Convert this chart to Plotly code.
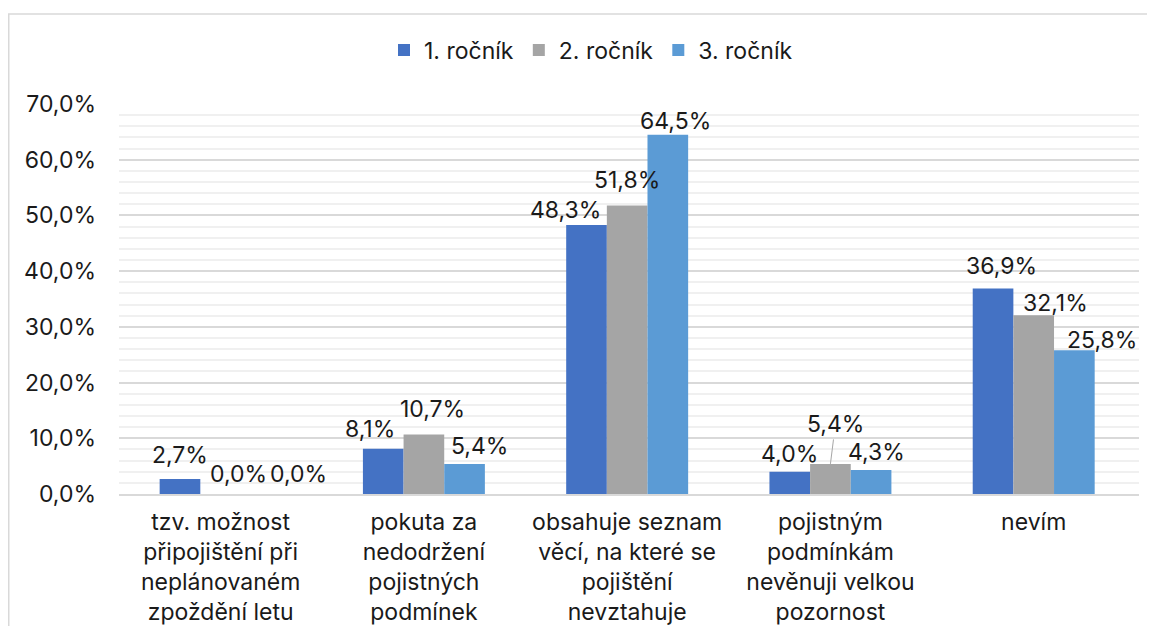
import plotly.graph_objects as go

categories = [
    "tzv. možnost<br>připojištění při<br>neplánovaném<br>zpoždění letu",
    "pokuta za<br>nedodržení<br>pojistných<br>podmínek",
    "obsahuje seznam<br>věcí, na které se<br>pojištění<br>nevztahuje",
    "pojistným<br>podmínkám<br>nevěnuji velkou<br>pozornost",
    "nevím",
]
series_names = ["1. ročník", "2. ročník", "3. ročník"]
rocnik1 = [2.7, 8.1, 48.3, 4.0, 36.9]
rocnik2 = [0.0, 10.7, 51.8, 5.4, 32.1]
rocnik3 = [0.0, 5.4, 64.5, 4.3, 25.8]
y_ticks = [0, 10, 20, 30, 40, 50, 60, 70]
y_tick_labels = ["0,0%", "10,0%", "20,0%", "30,0%", "40,0%", "50,0%", "60,0%", "70,0%"]

colors = ["#4472C4", "#A5A5A5", "#5B9BD5"]
series = [rocnik1, rocnik2, rocnik3]

# label nudges (pixels) per series per category: (dx, dy above bar top)
label_dx = [[0, -13, -21, 0, 8.5], [17.5, 8.5, 0, 5, 22], [37, 14.5, 8, 5.3, 27.5]]
label_dy = [[24, 20, 15, 17.5, 22.5], [20, 25, 25, 40, 12.5], [20, 18, 14, 18.3, 10]]
leader = [[False] * 5, [False, False, False, True, False], [False] * 5]

# page body has an 8px margin; keep the figure inside the window
W, H = 1139, 618
ML, MR, MT, MB = 111, 8, 96, 132
plot_w = W - ML - MR
plot_h = H - MT - MB
bar_w = plot_w / len(categories) * 0.6 / 3

FONT = "Inter, 'Noto Sans', sans-serif"
TXT = "#1a1a1a"
FS = 23

fig = go.Figure()
for name, vals, c in zip(series_names, series, colors):
    fig.add_trace(go.Bar(x=categories, y=vals, name=name, marker=dict(color=c, line=dict(width=0))))

annotations = []
for s, vals in enumerate(series):
    off = (s - 1) * bar_w
    for i, v in enumerate(vals):
        txt = f"{v:.1f}".replace(".", ",") + "%"
        if leader[s][i]:
            annotations.append(dict(
                x=categories[i], y=v, xref="x", yref="y", text=txt,
                showarrow=True, arrowhead=0, arrowwidth=1, arrowcolor="#A6A6A6",
                ax=label_dx[s][i], ay=-label_dy[s][i], standoff=0,
                xshift=off, font=dict(size=FS, color=TXT, family=FONT),
            ))
        else:
            annotations.append(dict(
                x=categories[i], y=v, xref="x", yref="y", text=txt, showarrow=False,
                xshift=off + label_dx[s][i], yshift=label_dy[s][i],
                xanchor="center", yanchor="middle",
                font=dict(size=FS, color=TXT, family=FONT),
            ))

# outer chart border (left and top edges visible)
shapes = [dict(
    type="rect", xref="paper", yref="paper",
    x0=(0.75 - ML) / plot_w, x1=(W + 20 - ML) / plot_w,
    y0=-(H + 20 - MT - plot_h) / plot_h, y1=1 + (MT - 6) / plot_h,
    line=dict(color="#D9D9D9", width=1.5), fillcolor="rgba(0,0,0,0)", layer="below",
)]

fig.update_layout(
    width=W, height=H,
    margin=dict(l=ML, r=MR, t=MT, b=MB, pad=0, autoexpand=False),
    paper_bgcolor="white", plot_bgcolor="white",
    barmode="group", bargap=0.4, bargroupgap=0,
    font=dict(family=FONT, size=FS, color=TXT),
    legend=dict(orientation="h", x=(583 - ML) / plot_w, xanchor="center",
                y=1 + (MT - 42) / plot_h, yanchor="middle",
                font=dict(size=FS, color=TXT), itemwidth=30, tracegroupgap=0),
    annotations=annotations,
    shapes=shapes,
    xaxis=dict(showgrid=False, showline=True, linecolor="#D9D9D9", linewidth=1.5, ticks="",
               tickfont=dict(size=FS, color=TXT), ticklabelstandoff=7, automargin=False),
    yaxis=dict(range=[0, 70], tickvals=y_ticks, ticktext=y_tick_labels,
               showgrid=True, gridcolor="#D9D9D9", gridwidth=1.5,
               minor=dict(dtick=2, showgrid=True, gridcolor="#F0F0F0", gridwidth=1.5),
               zeroline=False, showline=False, ticks="", ticklabelstandoff=22,
               tickfont=dict(size=FS, color=TXT), automargin=False),
)

fig.write_html("out.html")
